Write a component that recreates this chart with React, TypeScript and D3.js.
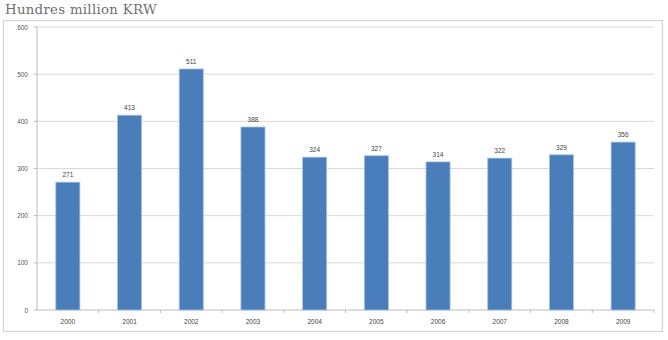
import React from "react";
import * as d3 from "d3";

const categories = ["2000", "2001", "2002", "2003", "2004", "2005", "2006", "2007", "2008", "2009"];
const values = [271, 413, 511, 388, 324, 327, 314, 322, 329, 356];
const yTicks = [0, 100, 200, 300, 400, 500, 600];
const title = "Hundres million KRW";

export default function App() {
  const W = 668, H = 340;
  const left = 37, right = 654, top = 27, bottom = 310;
  const x = d3.scaleBand<string>().domain(categories).range([left, right]).paddingInner(0.61).paddingOuter(0.305);
  const xb = d3.scaleBand<string>().domain(categories).range([left, right]);
  const y = d3.scaleLinear().domain([0, 600]).range([bottom, top]);
  const font = "'Liberation Sans', Arial, sans-serif";
  return (
    <svg width={W} height={H} style={{ position: "absolute", left: 0, top: 0 }}>
      <rect x={0} y={0} width={W} height={H} fill="#fff" />
      <text x={5} y={13.5} fontFamily="'DejaVu Serif', 'Liberation Serif', serif" fontSize={13.3} fill="#707070" letterSpacing={0.3}>{title}</text>
      <rect x={3.5} y={20.5} width={659} height={311} fill="none" stroke="#d4d4d4" strokeWidth={1.2} />
      {yTicks.map((t) => (
        <g key={t}>
          {t > 0 && <line x1={left} x2={right} y1={y(t)} y2={y(t)} stroke="#d9d9d9" strokeWidth={1} />}
          <line x1={left - 3} x2={left} y1={y(t)} y2={y(t)} stroke="#bbb" />
          <text x={28} y={y(t) + 2.5} textAnchor="end" fontFamily={font} fontSize={6.5} fill="#555">{t}</text>
        </g>
      ))}
      <line x1={left} x2={left} y1={top} y2={bottom} stroke="#bbb" />
      <line x1={left} x2={right} y1={bottom} y2={bottom} stroke="#bbb" />
      {categories.map((c) => (
        <line key={"t" + c} x1={(xb(c) as number) + xb.bandwidth()} x2={(xb(c) as number) + xb.bandwidth()} y1={bottom} y2={bottom + 3} stroke="#bbb" />
      ))}
      {categories.map((c, i) => (
        <g key={c}>
          <rect x={x(c)} y={y(values[i])} width={x.bandwidth()} height={bottom - y(values[i])} fill="#4a7ebb" stroke="#a8c1e0" strokeWidth={0.8} />
          <text x={(x(c) as number) + x.bandwidth() / 2} y={y(values[i]) - 5} textAnchor="middle" fontFamily={font} fontSize={6.5} fill="#444">{values[i]}</text>
          <text x={(x(c) as number) + x.bandwidth() / 2} y={324} textAnchor="middle" fontFamily={font} fontSize={6.5} fill="#444">{c}</text>
        </g>
      ))}
    </svg>
  );
}
